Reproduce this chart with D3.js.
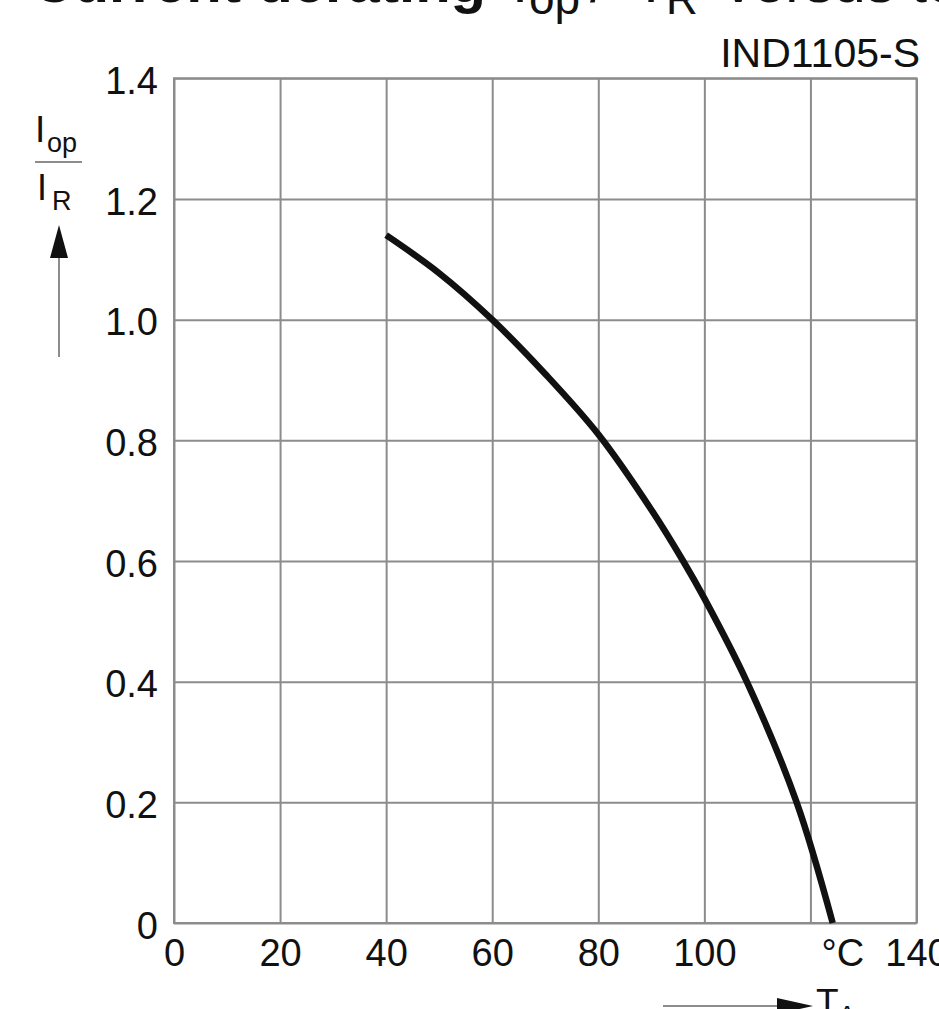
<!DOCTYPE html>
<html>
<head>
<meta charset="utf-8">
<script src="https://cdn.jsdelivr.net/npm/d3@7"></script>
<style>
  html, body { margin: 0; padding: 0; background: #fff; }
  svg { display: block; }
  text { font-family: "Liberation Sans", Arial, Helvetica, sans-serif; fill: #111; }
</style>
</head>
<body>
<svg id="chart" width="939" height="1009"></svg>
<script>
// ---- data ----
const temps  = [40, 50, 60, 70, 80, 90, 96, 100, 108, 117.4, 124.2];
const ratio  = [1.14, 1.077, 1.0, 0.91, 0.81, 0.685, 0.6, 0.538, 0.4, 0.2, 0];
const xTicks = [0, 20, 40, 60, 80, 100, 120, 140];
const xTickLabels = ["0", "20", "40", "60", "80", "100", "°C", "140"];
const yTicks = [0, 0.2, 0.4, 0.6, 0.8, 1.0, 1.2, 1.4];
const yTickLabels = ["0", "0.2", "0.4", "0.6", "0.8", "1.0", "1.2", "1.4"];
const modelName = "IND1105-S";

const svg = d3.select("#chart");
const L = 174, R = 916.5, T = 78.3, B = 923;
const x = d3.scaleLinear().domain([0, 140]).range([L, R]);
const y = d3.scaleLinear().domain([0, 1.4]).range([B, T]);
const gridColor = "#8c8c8c";

// cropped title at the very top (only its lower edge shows, as in the reference)
const title = svg.append("g").attr("class", "title");
title.append("text").attr("x", 486).attr("y", 2).attr("text-anchor", "end")
  .style("font-size", "58px").style("font-weight", "bold").text("Current derating");
const t2 = title.append("text").attr("x", 512).attr("y", 2).style("font-size", "58px");
t2.append("tspan").text("I");
t2.append("tspan").attr("x", 529).attr("y", 14).style("font-size", "46px").text("op");
t2.append("tspan").attr("x", 590).attr("y", 2).text("/");
t2.append("tspan").attr("x", 643).attr("y", 2).text("I");
t2.append("tspan").attr("x", 666).attr("y", 14).style("font-size", "44px").text("R");
t2.append("tspan").attr("x", 724).attr("y", 2).text("versus temperature");

// model label
svg.append("text").attr("x", 920).attr("y", 67).attr("text-anchor", "end")
  .style("font-size", "41px").text(modelName);

// axes + grid
const xAxis = d3.axisBottom(x).tickValues(xTicks)
  .tickSize(-(B - T)).tickPadding(16)
  .tickFormat((d, i) => xTickLabels[i]);
const gx = svg.append("g").attr("transform", `translate(0,${B})`).call(xAxis);
gx.select(".domain").remove();
gx.selectAll(".tick line").attr("stroke", gridColor).attr("stroke-width", 2);
gx.selectAll(".tick text").style("font-size", "38px").attr("fill", "#111")
  .attr("dx", (d, i) => xTickLabels[i] === "°C" ? 32 : 0);

const yAxis = d3.axisLeft(y).tickValues(yTicks)
  .tickSize(-(R - L)).tickPadding(16)
  .tickFormat((d, i) => yTickLabels[i]);
const gy = svg.append("g").attr("transform", `translate(${L},0)`).call(yAxis);
gy.select(".domain").remove();
gy.selectAll(".tick line").attr("stroke", gridColor).attr("stroke-width", 2);
gy.selectAll(".tick text").style("font-size", "38px").attr("fill", "#111").attr("dy", "0.40em");

// frame
svg.append("rect").attr("x", x(0)).attr("y", y(1.4))
  .attr("width", x(140) - x(0)).attr("height", y(0) - y(1.4))
  .attr("fill", "none").attr("stroke", gridColor).attr("stroke-width", 2);

// curve
const pts = temps.map((t, i) => [t, ratio[i]]);
const line = d3.line().x(d => x(d[0])).y(d => y(d[1])).curve(d3.curveCatmullRom.alpha(0.5));
svg.append("path").datum(pts).attr("d", line)
  .attr("fill", "none").attr("stroke", "#111").attr("stroke-width", 6.5);

// y-axis label: I_op / I_R with arrow
const yl = svg.append("g");
const t1 = yl.append("text").attr("x", 35).attr("y", 142).style("font-size", "37px");
t1.append("tspan").text("I");
t1.append("tspan").attr("x", 47).attr("y", 152).style("font-size", "27px").text("op");
yl.append("line").attr("x1", 35).attr("x2", 82).attr("y1", 162).attr("y2", 162)
  .attr("stroke", gridColor).attr("stroke-width", 2);
const t3 = yl.append("text").attr("x", 37).attr("y", 200).style("font-size", "36px");
t3.append("tspan").text("I");
t3.append("tspan").attr("x", 52).attr("y", 210).style("font-size", "27px").text("R");
yl.append("line").attr("x1", 59).attr("x2", 59).attr("y1", 255).attr("y2", 357)
  .attr("stroke", gridColor).attr("stroke-width", 2);
yl.append("path").attr("d", "M59,225 L50,258 L68,258 Z").attr("fill", "#111");

// x-axis label arrow: T_A
const xl = svg.append("g");
xl.append("line").attr("x1", 663).attr("x2", 780).attr("y1", 1006).attr("y2", 1006)
  .attr("stroke", gridColor).attr("stroke-width", 2);
xl.append("path").attr("d", "M813,1006 L777,998 L777,1014 Z").attr("fill", "#111");
const tA = xl.append("text").attr("x", 816).attr("y", 1015).style("font-size", "37px");
tA.append("tspan").text("T");
tA.append("tspan").attr("x", 838).attr("y", 1025).style("font-size", "27px").text("A");
</script>
</body>
</html>
